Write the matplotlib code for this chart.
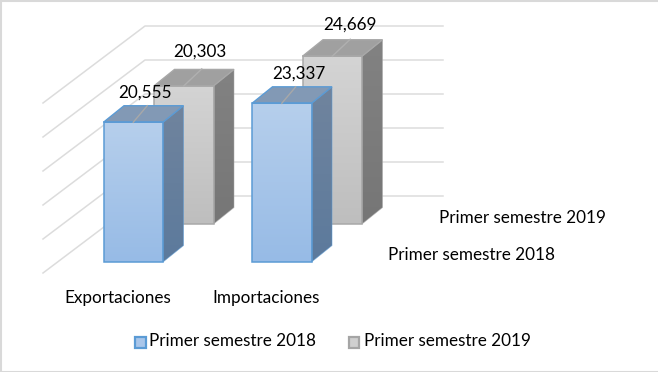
import numpy as np
import matplotlib
matplotlib.use('Agg')
import matplotlib.pyplot as plt
from matplotlib.patches import Polygon, Rectangle

plt.rcParams['font.family'] = ['Lato', 'DejaVu Sans']

categories = ['Exportaciones', 'Importaciones']
series_names = ['Primer semestre 2018', 'Primer semestre 2019']
values_2018 = [20555, 23337]
values_2019 = [20303, 24669]
value_labels_2018 = ['20,555', '23,337']
value_labels_2019 = ['20,303', '24,669']
grid_values = [0, 5000, 10000, 15000, 20000, 25000]

# oblique projection, everything in image pixels
PX_PER_UNIT = 170 / 25000
BAR_W = 59.5
DX, DY = 20.5, 16.5
FS = 12.3

fig = plt.figure(figsize=(6.58, 3.72), dpi=100)
ax = fig.add_axes([0, 0, 1, 1])


def draw_bar(x0, base, value, top_fill, bottom_fill, side_top, side_bottom, roof, edge, z):
    top = base - value * PX_PER_UNIT
    x1 = x0 + BAR_W
    front = [(x0, base), (x1, base), (x1, top), (x0, top)]
    side = [(x1, base), (x1 + DX, base - DY), (x1 + DX, top - DY), (x1, top)]
    lid = [(x0, top), (x1, top), (x1 + DX, top - DY), (x0 + DX, top - DY)]
    for poly, c0, c1, ext in [
        (front, top_fill, bottom_fill, (x0, x1, base, top)),
        (side, side_top, side_bottom, (x1, x1 + DX, base, top - DY)),
    ]:
        cmap = matplotlib.colors.LinearSegmentedColormap.from_list('g', [c0, c1])
        im = ax.imshow(np.linspace(0, 1, 64).reshape(-1, 1), cmap=cmap, extent=ext,
                       origin='upper', aspect='auto', zorder=z)
        clip = Polygon(poly, transform=ax.transData, fc='none', ec='none')
        ax.add_patch(clip)
        im.set_clip_path(clip)
    ax.add_patch(Polygon(lid, fc=roof, ec='none', zorder=z))
    ax.add_patch(Polygon(side, fc='none', ec=edge, lw=0.6, alpha=0.6, zorder=z + 0.1))
    ax.add_patch(Polygon(lid, fc='none', ec=edge, lw=1.0, zorder=z + 0.1))
    ax.add_patch(Polygon(front, fc='none', ec=edge, lw=1.1, zorder=z + 0.2))
    return top


# back wall and side wall grid
for v in grid_values:
    y = 196 - v * PX_PER_UNIT
    ax.plot([43, 145, 443], [y + 77, y, y], color='#dcdcdc', lw=1.1, zorder=1)

front_x = [103.5, 252]
back_x = [154, 302.5]
label_pos_2018 = [(145, 93), (299, 74)]
label_pos_2019 = [(200, 52), (350, 25)]

for i in range(2):
    top = draw_bar(back_x[i], 224, values_2019[i], '#d4d4d4', '#bebebe', '#828282', '#767676',
                   '#a0a0a0', '#a8a8a8', 2 + i * 0.5)
    cx = back_x[i] + BAR_W / 2
    ax.plot([cx, cx + 18], [top, top - 17], color='#b0b0b0', lw=1.0, zorder=4)
for i in range(2):
    top = draw_bar(front_x[i], 262, values_2018[i], '#b6cfec', '#97bbe6', '#70849e', '#5c7a9c',
                   '#8299b5', '#5b9bd5', 5 + i)
    cx = front_x[i] + BAR_W / 2
    ax.plot([cx, cx + 14], [top, top - 16.5], color='#a8a8a8', lw=1.0, zorder=8)

for i in range(2):
    ax.text(*label_pos_2018[i], value_labels_2018[i], fontsize=FS, ha='center', va='center', color='black', zorder=9)
    ax.text(*label_pos_2019[i], value_labels_2019[i], fontsize=FS, ha='center', va='center', color='black', zorder=9)

# category and series axis labels
for x, name in zip([117.5, 266], categories):
    ax.text(x, 298.5, name, fontsize=FS, ha='center', va='center', color='black')
ax.text(522.5, 218, series_names[1], fontsize=FS, ha='center', va='center', color='black')
ax.text(471.5, 255.5, series_names[0], fontsize=FS, ha='center', va='center', color='black')

# legend
ax.add_patch(Rectangle((135, 337), 11, 11, fc='#a9c6ea', ec='#5b9bd5', lw=1.6))
ax.text(149, 341.5, series_names[0], fontsize=FS, ha='left', va='center', color='black')
ax.add_patch(Rectangle((349, 337), 10, 11, fc='#cfcfcf', ec='#a5a5a5', lw=1.6))
ax.text(364, 341.5, series_names[1], fontsize=FS, ha='left', va='center', color='black')

# image border
ax.plot([0.5, 0.5], [0, 372], color='#d9d9d9', lw=1.5)
ax.plot([0, 658], [0.5, 0.5], color='#d9d9d9', lw=1.5)
ax.plot([0, 658], [371.5, 371.5], color='#d9d9d9', lw=1.5)

ax.set_xlim(0, 658)
ax.set_ylim(372, 0)
ax.axis('off')

fig.savefig('out.png', dpi=100)
